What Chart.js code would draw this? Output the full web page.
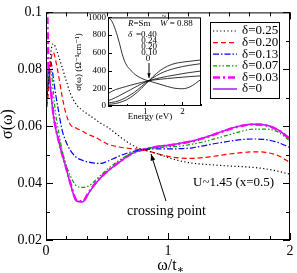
<!DOCTYPE html>
<html>
<head>
<meta charset="utf-8">
<script src="https://cdn.jsdelivr.net/npm/chart.js@4"></script>
<style>
  html, body { margin: 0; padding: 0; background: #fff; }
  #wrap { position: relative; width: 297px; height: 273px; }
  #main { position: absolute; left: 0; top: 0; }
  #inset { position: absolute; left: 70px; top: 10px; }
</style>
</head>
<body>
<div id="wrap">
  <canvas id="main" width="297" height="273"></canvas>
  <canvas id="inset" width="134" height="115"></canvas>
</div>
<script>
// main panel: sigma(omega) vs omega/t*, one series per doping
const omega = [0, 0.02, 0.04, 0.06, 0.08, 0.1, 0.13, 0.16, 0.2, 0.25, 0.3, 0.35, 0.4, 0.45, 0.5,
  0.6, 0.7, 0.8, 0.9, 1.0, 1.1, 1.2, 1.3, 1.4, 1.5, 1.6, 1.7, 1.8, 1.9, 2.0]
const d025 = [0.066, 0.075, 0.086, 0.089, 0.0875, 0.085, 0.081, 0.0768, 0.0715, 0.0675, 0.0655, 0.064, 0.0625, 0.061, 0.0598,
  0.0565, 0.0535, 0.0517, 0.0505, 0.049, 0.0478, 0.047, 0.0466, 0.0463, 0.046, 0.0458, 0.0455, 0.045, 0.0442, 0.0431]
const d020 = [0.064, 0.072, 0.083, 0.086, 0.083, 0.0786, 0.071, 0.065, 0.0605, 0.0593, 0.0582, 0.057, 0.0562, 0.055, 0.0538,
  0.0527, 0.0521, 0.0517, 0.0505, 0.0494, 0.0488, 0.0487, 0.049, 0.0496, 0.0502, 0.0507, 0.051, 0.0508, 0.0497, 0.0472]
const d013 = [0.066, 0.076, 0.0825, 0.077, 0.071, 0.066, 0.059, 0.055, 0.0515, 0.049, 0.048, 0.0474, 0.047, 0.0469, 0.0476,
  0.0495, 0.051, 0.0518, 0.052, 0.052, 0.0521, 0.0524, 0.0532, 0.054, 0.0547, 0.0553, 0.0555, 0.0553, 0.0543, 0.0525]
const d007 = [0.064, 0.076, 0.0795, 0.072, 0.064, 0.059, 0.052, 0.047, 0.0425, 0.039, 0.0385, 0.039, 0.0408, 0.0428, 0.0448,
  0.048, 0.0505, 0.0518, 0.0524, 0.0527, 0.053, 0.0537, 0.0546, 0.0558, 0.057, 0.0582, 0.059, 0.059, 0.058, 0.0548]
const d003 = [0.13, 0.081, 0.073, 0.0645, 0.0595, 0.0557, 0.0507, 0.0462, 0.04, 0.034, 0.0336, 0.0367, 0.0397, 0.0421, 0.0441,
  0.0474, 0.0503, 0.0518, 0.0527, 0.0532, 0.0539, 0.0547, 0.0559, 0.0574, 0.0589, 0.0601, 0.0606, 0.0603, 0.0587, 0.0555]
const d000 = [0.07, 0.081, 0.072, 0.064, 0.059, 0.0555, 0.0505, 0.046, 0.0398, 0.0337, 0.0334, 0.0365, 0.0395, 0.042, 0.044,
  0.0473, 0.0503, 0.0518, 0.0528, 0.0533, 0.054, 0.0548, 0.056, 0.0575, 0.059, 0.0602, 0.0607, 0.0604, 0.0588, 0.0555]
const labels = ['δ=0.25', 'δ=0.20', 'δ=0.13', 'δ=0.07', 'δ=0.03', 'δ=0']

// inset: measured sigma(omega) vs energy (eV)
const energy = [0, 0.1, 0.2, 0.3, 0.4, 0.5, 0.6, 0.7, 0.8, 0.9, 1.0, 1.1, 1.2, 1.4, 1.6, 1.8, 2.0, 2.2, 2.5]
const inA = [1000, 960, 860, 720, 560, 460, 410, 365, 335, 312, 295, 283, 270, 245, 220, 200, 195, 215, 300]
const inB = [20, 22, 28, 38, 52, 70, 95, 125, 160, 200, 243, 285, 328, 400, 450, 480, 495, 505, 520]
const inC = [35, 40, 48, 60, 78, 100, 125, 152, 185, 220, 255, 285, 315, 365, 400, 425, 445, 460, 478]
const inD = [60, 75, 95, 115, 138, 160, 182, 205, 228, 250, 270, 285, 298, 318, 335, 350, 365, 378, 395]
const inE = [140, 165, 185, 198, 210, 222, 233, 245, 256, 266, 276, 285, 292, 302, 310, 318, 325, 332, 340]

const serif = '"Liberation Serif", "DejaVu Serif", serif'
const pts = (xs, ys) => xs.map((x, i) => ({x: x, y: ys[i]}))

// inward ticks on the frame, long ones where a label is shown
function drawFrame(ctx, a, x, y, mirror, major, minor) {
  ctx.save()
  ctx.strokeStyle = '#000'
  ctx.lineWidth = 1
  ctx.strokeRect(a.left + 0.5, a.top + 0.5, a.right - a.left - 1, a.bottom - a.top - 1)
  ctx.beginPath()
  x.ticks.forEach(t => {
    const p = Math.round(x.getPixelForValue(t.value)) + 0.5
    const len = t.label ? major : minor
    ctx.moveTo(p, a.bottom); ctx.lineTo(p, a.bottom - len)
    if (mirror) { ctx.moveTo(p, a.top); ctx.lineTo(p, a.top + len) }
  })
  y.ticks.forEach(t => {
    const p = Math.round(y.getPixelForValue(t.value)) + 0.5
    const len = t.label ? major : minor
    ctx.moveTo(a.left, p); ctx.lineTo(a.left + len, p)
    if (mirror) { ctx.moveTo(a.right, p); ctx.lineTo(a.right - len, p) }
  })
  ctx.stroke()
  ctx.restore()
}

function arrow(ctx, x1, y1, x2, y2, head) {
  const ang = Math.atan2(y2 - y1, x2 - x1)
  ctx.beginPath()
  ctx.moveTo(x1, y1); ctx.lineTo(x2, y2)
  ctx.stroke()
  ctx.beginPath()
  ctx.moveTo(x2, y2)
  ctx.lineTo(x2 - head * Math.cos(ang - 0.35), y2 - head * Math.sin(ang - 0.35))
  ctx.lineTo(x2 - head * Math.cos(ang + 0.35), y2 - head * Math.sin(ang + 0.35))
  ctx.closePath()
  ctx.fill()
}

const mainDeco = {
  id: 'mainDeco',
  afterDraw(chart) {
    const {ctx, chartArea: a, scales: {x, y}} = chart
    drawFrame(ctx, a, x, y, true, 7, 4)
    ctx.save()
    ctx.fillStyle = '#000'
    ctx.strokeStyle = '#000'
    ctx.lineWidth = 1

    // legend box
    ctx.fillStyle = '#fff'
    ctx.fillRect(210, 22, 69, 76)
    ctx.strokeRect(210.5, 22.5, 69, 76)
    ctx.fillStyle = '#000'
    ctx.font = '13px ' + serif
    ctx.textBaseline = 'middle'
    chart.data.datasets.forEach((ds, i) => {
      const ly = 31 + i * 11.6
      ctx.save()
      ctx.strokeStyle = ds.borderColor
      ctx.lineWidth = ds.borderWidth
      ctx.setLineDash(ds.borderDash || [])
      ctx.beginPath(); ctx.moveTo(213, ly); ctx.lineTo(237, ly); ctx.stroke()
      ctx.restore()
      ctx.fillText(ds.label, 242, ly)
    })

    // notes
    ctx.font = '13px ' + serif
    ctx.fillText('U~1.45 (x=0.5)', 193, 183)
    ctx.font = '14px ' + serif
    ctx.fillText('crossing point', 127, 211)
    arrow(ctx, 166, 201, 151, 154, 7)

    // axis titles
    ctx.font = '16px ' + serif
    ctx.textAlign = 'center'
    ctx.save()
    ctx.translate(8, 124)
    ctx.rotate(-Math.PI / 2)
    ctx.fillText('σ(ω)', 0, 0)
    ctx.restore()
    ctx.textAlign = 'left'
    ctx.textBaseline = 'alphabetic'
    const w = ctx.measureText('ω/t').width
    ctx.fillText('ω/t', 170 - w / 2 - 3, 270)
    ctx.font = '11px ' + serif
    ctx.fillText('∗', 170 + w / 2 - 3, 273)
    ctx.restore()
  }
}

const insetDeco = {
  id: 'insetDeco',
  afterDraw(chart) {
    const {ctx, chartArea: a, scales: {x, y}} = chart
    drawFrame(ctx, a, x, y, false, 4, 2)
    ctx.save()
    ctx.fillStyle = '#000'
    ctx.strokeStyle = '#000'
    ctx.lineWidth = 1
    ctx.textBaseline = 'middle'
    ctx.font = '9px ' + serif

    // y title
    ctx.save()
    ctx.translate(9, 52)
    ctx.rotate(-Math.PI / 2)
    ctx.textAlign = 'center'
    ctx.fillText('σ(ω) (Ω⁻¹cm⁻¹)', 0, 0)
    ctx.restore()
    ctx.textAlign = 'center'
    ctx.fillText('Energy (eV)', 80, 107)

    // R=Sm  W~ = 0.88
    ctx.textAlign = 'left'
    ctx.font = 'italic 9px ' + serif
    ctx.fillText('R', 58, 14)
    let rw = ctx.measureText('R').width
    ctx.font = '9px ' + serif
    ctx.fillText('=Sm', 58 + rw, 14)
    ctx.font = 'italic 9px ' + serif
    ctx.fillText('W', 90, 14)
    ctx.fillText('~', 91.5, 7)
    rw = ctx.measureText('W').width
    ctx.font = '9px ' + serif
    ctx.fillText(' = 0.88', 90 + rw, 14)

    ctx.font = 'italic 9px ' + serif
    ctx.fillText('δ', 58, 25)
    ctx.font = '9px ' + serif
    ctx.fillText('=0.40', 66, 25)
    ctx.textAlign = 'right'
    ctx.fillText('0.24', 87, 31)
    ctx.fillText('0.20', 87, 37)
    ctx.fillText('0.10', 87, 43)
    ctx.textAlign = 'center'
    ctx.fillText('0', 78, 49)
    arrow(ctx, 79, 53, 79, 68, 5)
    ctx.restore()
  }
}

const xTickVals = [0, 1, 2, 3, 4, 5, 6, 7, 8, 9, 10, 11, 12].map(k => k / 6)
const yTickVals = [0.02, 0.03, 0.04, 0.05, 0.06, 0.07, 0.08, 0.09, 0.1]

new Chart(document.getElementById('main'), {
  type: 'line',
  data: {
    datasets: [
      {label: labels[0], data: pts(omega, d025), borderColor: '#000000', borderWidth: 1.2, borderDash: [1.2, 2.4]},
      {label: labels[1], data: pts(omega, d020), borderColor: '#ff0000', borderWidth: 1.2, borderDash: [5, 3]},
      {label: labels[2], data: pts(omega, d013), borderColor: '#0000ff', borderWidth: 1.2, borderDash: [6, 2, 1.5, 2]},
      {label: labels[3], data: pts(omega, d007), borderColor: '#00a000', borderWidth: 1.2, borderDash: [4, 2, 1.5, 2, 1.5, 2]},
      {label: labels[4], data: pts(omega, d003), borderColor: '#ff00ff', borderWidth: 2.5, borderDash: [7, 3, 2, 3]},
      {label: labels[5], data: pts(omega, d000), borderColor: '#a020f0', borderWidth: 1.5}
    ]
  },
  options: {
    responsive: false,
    animation: false,
    devicePixelRatio: 1,
    layout: {padding: {top: 8, right: 7, left: 0, bottom: 0}},
    elements: {point: {radius: 0}, line: {cubicInterpolationMode: 'monotone', fill: false}},
    plugins: {legend: {display: false}, tooltip: {enabled: false}},
    scales: {
      x: {
        type: 'linear', min: 0, max: 2,
        grid: {display: false, drawTicks: false},
        border: {display: false},
        afterBuildTicks: s => { s.ticks = xTickVals.map(v => ({value: v})) },
        afterFit: s => { s.height = 33 },
        ticks: {
          autoSkip: false, maxRotation: 0, padding: 3, color: '#000',
          font: {family: serif, size: 14},
          callback: v => Math.abs(v - Math.round(v)) < 1e-6 ? String(Math.round(v)) : ''
        }
      },
      y: {
        min: 0.02, max: 0.1,
        grid: {display: false, drawTicks: false},
        border: {display: false},
        afterBuildTicks: s => { s.ticks = yTickVals.map(v => ({value: v})) },
        afterFit: s => { s.width = 46 },
        ticks: {
          autoSkip: false, padding: 4, color: '#000',
          font: {family: serif, size: 14},
          callback: v => {
            const n = Math.round(v * 100)
            if (n % 2) return ''
            return n === 10 ? '0.1' : '0.0' + n
          }
        }
      }
    }
  },
  plugins: [mainDeco]
})

new Chart(document.getElementById('inset'), {
  type: 'line',
  data: {
    datasets: [inA, inB, inC, inD, inE].map(s => ({
      data: pts(energy, s), borderColor: '#000', borderWidth: 0.8
    }))
  },
  options: {
    responsive: false,
    animation: false,
    devicePixelRatio: 1,
    layout: {padding: {top: 5, right: 3, left: 0, bottom: 0}},
    elements: {point: {radius: 0}, line: {cubicInterpolationMode: 'monotone', fill: false}},
    plugins: {legend: {display: false}, tooltip: {enabled: false}},
    scales: {
      x: {
        type: 'linear', min: 0, max: 2.5,
        grid: {display: false, drawTicks: false},
        border: {display: false},
        afterBuildTicks: s => { s.ticks = [0, 0.5, 1, 1.5, 2, 2.5].map(v => ({value: v})) },
        afterFit: s => { s.height = 19 },
        ticks: {
          autoSkip: false, maxRotation: 0, padding: 0, color: '#000',
          font: {family: serif, size: 9},
          callback: v => (v === 1 || v === 2) ? String(v) : ''
        }
      },
      y: {
        min: 0, max: 1000,
        grid: {display: false, drawTicks: false},
        border: {display: false},
        afterBuildTicks: s => { s.ticks = [0, 200, 400, 600, 800, 1000].map(v => ({value: v})) },
        afterFit: s => { s.width = 38 },
        ticks: {autoSkip: false, padding: 2, color: '#000', font: {family: serif, size: 9}, callback: v => String(v)}
      }
    }
  },
  plugins: [insetDeco]
})
</script>
</body>
</html>
